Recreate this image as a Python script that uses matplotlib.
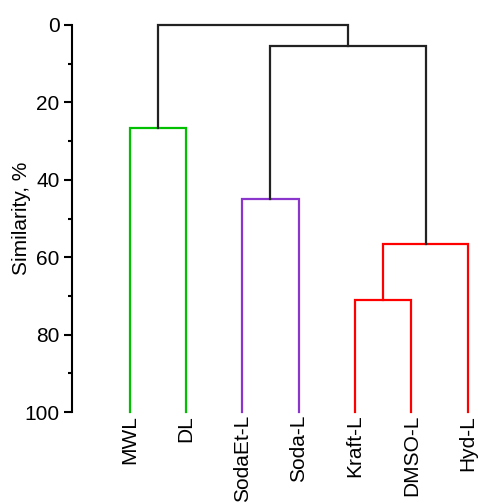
import matplotlib
matplotlib.use("Agg")
from matplotlib import pyplot as plt
from matplotlib.ticker import MultipleLocator

plt.rcParams['font.family'] = ['Liberation Sans', 'DejaVu Sans']

leaves = ["MWL", "DL", "SodaEt-L", "Soda-L", "Kraft-L", "DMSO-L", "Hyd-L"]
leaf_height = 100

# merges: (left node, right node, similarity %, colour); new nodes get ids 7, 8, ...
merges = [
    (0, 1, 26.5, "#00c000"),
    (2, 3, 45.0, "#8a35cc"),
    (4, 5, 71.0, "#ff0000"),
    (9, 6, 56.5, "#ff0000"),
    (8, 10, 5.5, "#222222"),
    (7, 11, 0.0, "#222222"),
]

fig = plt.figure(figsize=(4.78, 5.03), dpi=100)
ax = fig.add_axes([72 / 478, 1 - 412 / 503, 1 - 72 / 478, 387 / 503])

xpos = {i: float(i) for i in range(len(leaves))}
hgt = {i: leaf_height for i in range(len(leaves))}
node = len(leaves)
for a, b, h, c in merges:
    ax.plot([xpos[a], xpos[a], xpos[b], xpos[b]], [hgt[a], h, h, hgt[b]],
            color=c, lw=1.6, solid_joinstyle="miter", clip_on=False)
    xpos[node] = (xpos[a] + xpos[b]) / 2
    hgt[node] = h
    node += 1

ax.set_xlim(-1.02, 6.18)
ax.set_ylim(100, 0)
ax.yaxis.set_major_locator(MultipleLocator(20))
ax.yaxis.set_minor_locator(MultipleLocator(10))
ax.set_xticks(range(len(leaves)))
ax.set_xticklabels(leaves, rotation=90, va="top")
ax.tick_params(axis="x", length=0, pad=2, labelsize=15)
ax.tick_params(axis="y", which="major", length=6, width=1.5, labelsize=15, pad=3)
ax.tick_params(axis="y", which="minor", length=3, width=1.5)
for s in ["top", "right", "bottom"]:
    ax.spines[s].set_visible(False)
ax.spines["left"].set_linewidth(1.5)
ax.set_ylabel("Similarity, %", fontsize=15)
ax.yaxis.set_label_coords(-41 / 406, 0.5)

fig.savefig("out.png", dpi=100)
